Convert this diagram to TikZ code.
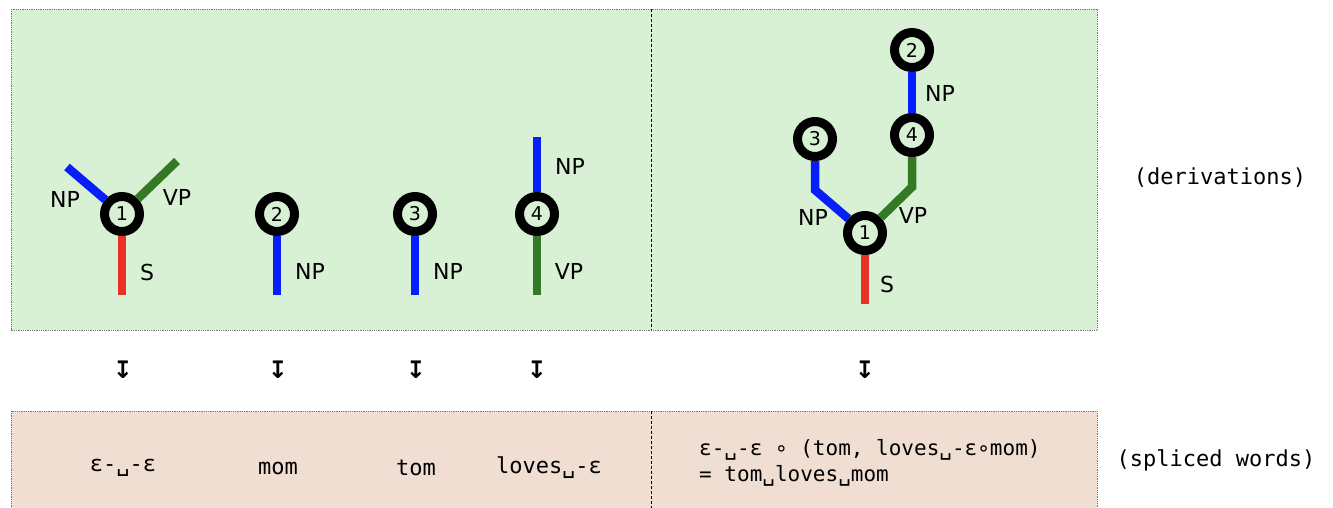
\documentclass[tikz,border=0pt]{standalone}
\usepackage{fontspec}
\setmainfont{DejaVu Sans}
\newfontfamily\monofam{DejaVu Sans Mono}
\newfontfamily\arrfam{DejaVu Sans}
\definecolor{greenbg}{RGB}{216,240,212}
\definecolor{tanbg}{RGB}{239,222,209}
\definecolor{sred}{RGB}{232,50,38}
\definecolor{npblue}{RGB}{5,30,250}
\definecolor{vpgreen}{RGB}{52,122,36}
\definecolor{bordergray}{RGB}{120,120,120}
\tikzset{
  panel/.style={draw=bordergray, densely dotted, line width=0.8pt},
  divider/.style={draw=black, densely dashed, line width=1pt},
  nd/.style={circle, draw=black, line width=9pt, minimum size=35pt, inner sep=0pt, font=\fontsize{19}{19}\selectfont},
  sline/.style={draw=sred, line width=8.5pt},
  npline/.style={draw=npblue, line width=8.5pt},
  vpline/.style={draw=vpgreen, line width=8.5pt},
  lab/.style={font=\fontsize{22}{22}\selectfont, inner sep=0pt},
  word/.style={font=\monofam\fontsize{22}{26}\selectfont, inner sep=0pt},
  formula/.style={font=\monofam\fontsize{21}{26}\selectfont, inner sep=0pt},
  maparrow/.style={font=\arrfam\bfseries\fontsize{24}{24}\selectfont, inner sep=0pt}
}
\begin{document}
\begin{tikzpicture}[x=1pt,y=-1pt]
\useasboundingbox (0,0) rectangle (1333,507);
\begin{scope}
\clip (0,0) rectangle (1333,507);
% panels
\path[fill=greenbg] (11,9) rectangle (1097,330);
\draw[panel] (11,9) rectangle (1097,330);
\path[fill=tanbg] (11,411) rectangle (1097,520);
\draw[panel] (11,411) rectangle (1097,520);
\coordinate (d1t) at (651,9);
\coordinate (d1b) at (651,330);
\coordinate (d2t) at (651,411);
\coordinate (d2b) at (651,520);
\draw[divider] (d1t) -- (d1b);
\draw[divider] (d2t) -- (d2b);
\end{scope}

% tree 1
\node[nd] (a1) at (122,214) {1};
\coordinate (a1s) at (122,295);
\coordinate (a1np) at (67,167);
\coordinate (a1vp) at (177,161);
\draw[sline] (a1) -- (a1s);
\draw[npline] (a1) -- (a1np);
\draw[vpline] (a1) -- (a1vp);
\node[lab] (la1s) at (147,272) {S};
\node[lab] (la1np) at (65,199) {NP};
\node[lab] (la1vp) at (177,197) {VP};

% tree 2
\node[nd] (a2) at (277,214) {2};
\coordinate (a2np) at (277,295);
\draw[npline] (a2) -- (a2np);
\node[lab] (la2np) at (310,271) {NP};

% tree 3
\node[nd] (a3) at (415,214) {3};
\coordinate (a3np) at (415,295);
\draw[npline] (a3) -- (a3np);
\node[lab] (la3np) at (448,271) {NP};

% tree 4
\node[nd] (a4) at (537,214) {4};
\coordinate (a4np) at (537,137);
\coordinate (a4vp) at (537,295);
\draw[npline] (a4) -- (a4np);
\draw[vpline] (a4) -- (a4vp);
\node[lab] (la4np) at (570,166) {NP};
\node[lab] (la4vp) at (569,271) {VP};

% composed tree
\node[nd] (b1) at (865,233) {1};
\node[nd] (b3) at (815,139) {3};
\node[nd] (b4) at (912,135) {4};
\node[nd] (b2) at (912,50) {2};
\coordinate (b1s) at (865,304);
\coordinate (bnpk) at (815,190);
\coordinate (bvpk) at (912,187);
\draw[sline] (b1) -- (b1s);
\draw[npline, line join=miter] (b1) -- (bnpk) -- (b3);
\draw[vpline, line join=miter] (b1) -- (bvpk) -- (b4);
\draw[npline] (b4) -- (b2);
\node[lab] (lb1s) at (887,284) {S};
\node[lab] (lb1np) at (813,217) {NP};
\node[lab] (lb1vp) at (913,215) {VP};
\node[lab] (lb4np) at (940,93) {NP};

% map arrows
\node[maparrow] (m1) at (123,370) {↧};
\node[maparrow] (m2) at (278,370) {↧};
\node[maparrow] (m3) at (416,370) {↧};
\node[maparrow] (m4) at (537,370) {↧};
\node[maparrow] (m5) at (865,370) {↧};

% words
\node[word] (w1) at (123,468) {ε-␣-ε};
\node[word] (w2) at (278,468) {mom};
\node[word] (w3) at (416,468) {tom};
\node[word] (w4) at (549,468) {loves␣-ε};
\node[formula, anchor=west, align=left] (w5) at (699,463) {ε-␣-ε ∘ (tom, loves␣-ε∘mom)\\= tom␣loves␣mom};

% side labels
\node[word] (sd) at (1220,178) {(derivations)};
\node[word] (sw) at (1216,460) {(spliced words)};
\end{tikzpicture}
\end{document}
